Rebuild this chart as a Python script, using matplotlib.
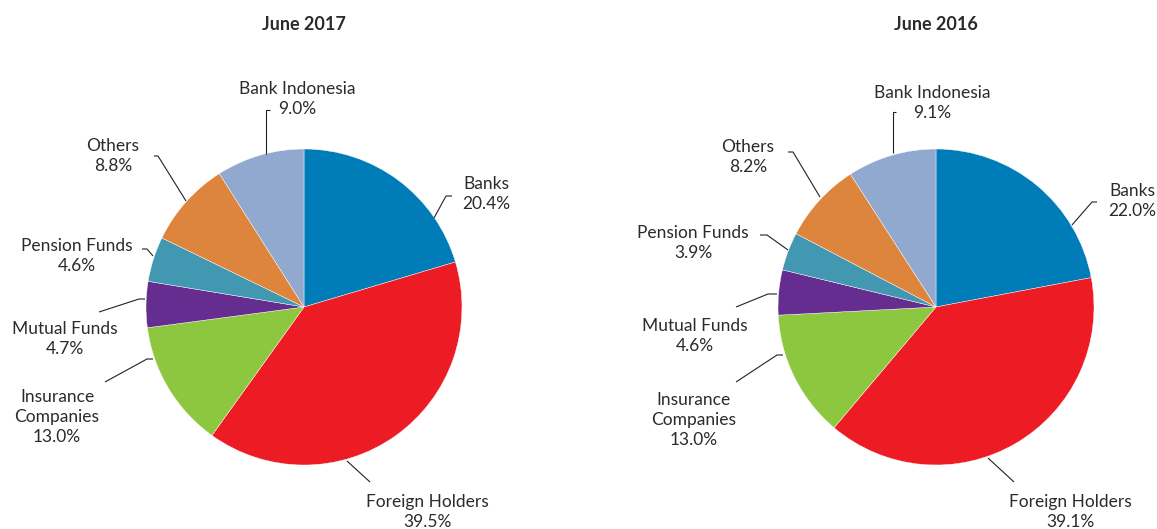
import matplotlib
matplotlib.use("Agg")
import matplotlib.pyplot as plt

plt.rcParams["font.family"] = ["Lato", "DejaVu Sans"]

categories = ["Banks", "Foreign Holders", "Insurance\nCompanies", "Mutual Funds",
              "Pension Funds", "Others", "Bank Indonesia"]
values_2017 = [20.4, 39.5, 13.0, 4.7, 4.6, 8.8, 9.0]
values_2016 = [22.0, 39.1, 13.0, 4.6, 3.9, 8.2, 9.1]
titles = ["June 2017", "June 2016"]
colors = ["#007cb8", "#ed1c24", "#8dc63f", "#662d91", "#4298b0", "#dd843d", "#91a9cf"]

TEXT = "#2b2b2b"

# pixel layout: pie centre, radius, label centres and leader line paths
layouts = [
    dict(center=(304, 307), r=158, title_x=304,
         labels=[(486, 194), (427, 512), (57, 417), (65, 339),
                 (77, 256), (113, 156), (297, 99)],
         leaders=[[(434, 218), (446, 196), (452, 196)],
                  [(347, 461), (370, 482)],
                  [(153, 359), (147, 359), (105, 382)],
                  [(145, 299), (139, 299), (99, 312)],
                  [(153, 256), (147, 249), (142, 249)],
                  [(186, 201), (158, 156), (154, 156)],
                  [(266, 154), (266, 110), (270, 110)]]),
    dict(center=(936, 307), r=158, title_x=936,
         labels=[(1132, 201), (1070, 512), (694, 420), (695, 336),
                 (693, 243), (748, 157), (932, 103)],
         leaders=[[(1072, 225), (1092, 202), (1097, 202)],
                  [(988, 458), (1014, 482)],
                  [(783, 355), (777, 355), (736, 382)],
                  [(777, 294), (768, 294), (736, 307)],
                  [(788, 250), (767, 235), (760, 235)],
                  [(820, 197), (793, 152), (788, 152)],
                  [(893, 153), (893, 112), (896, 112)]]),
]

fig = plt.figure(figsize=(11.57, 5.29), dpi=100)
ax = fig.add_axes([0, 0, 1, 1])

for values, title, lay in zip([values_2017, values_2016], titles, layouts):
    # y axis is inverted (pixel coords), so start at -90 and go counterclock
    ax.pie(values, colors=colors, center=lay["center"], radius=lay["r"],
           startangle=-90, counterclock=True,
           wedgeprops=dict(edgecolor="white", linewidth=0.3))
    ax.text(lay["title_x"], 25, title, ha="center", va="center",
            fontsize=13, fontweight="bold", color=TEXT)
    for cat, val, (lx, ly), path in zip(categories, values, lay["labels"], lay["leaders"]):
        ax.text(lx, ly, f"{cat}\n{val:.1f}%", ha="center", va="center",
                fontsize=12.5, color=TEXT, linespacing=1.3)
        xs, ys = zip(*path)
        ax.plot(xs, ys, color="#222222", lw=0.8, solid_capstyle="butt")

ax.set_xlim(0, 1157)
ax.set_ylim(529, 0)
ax.set_aspect("equal")
ax.axis("off")

fig.savefig("out.png", dpi=100, facecolor="white")
